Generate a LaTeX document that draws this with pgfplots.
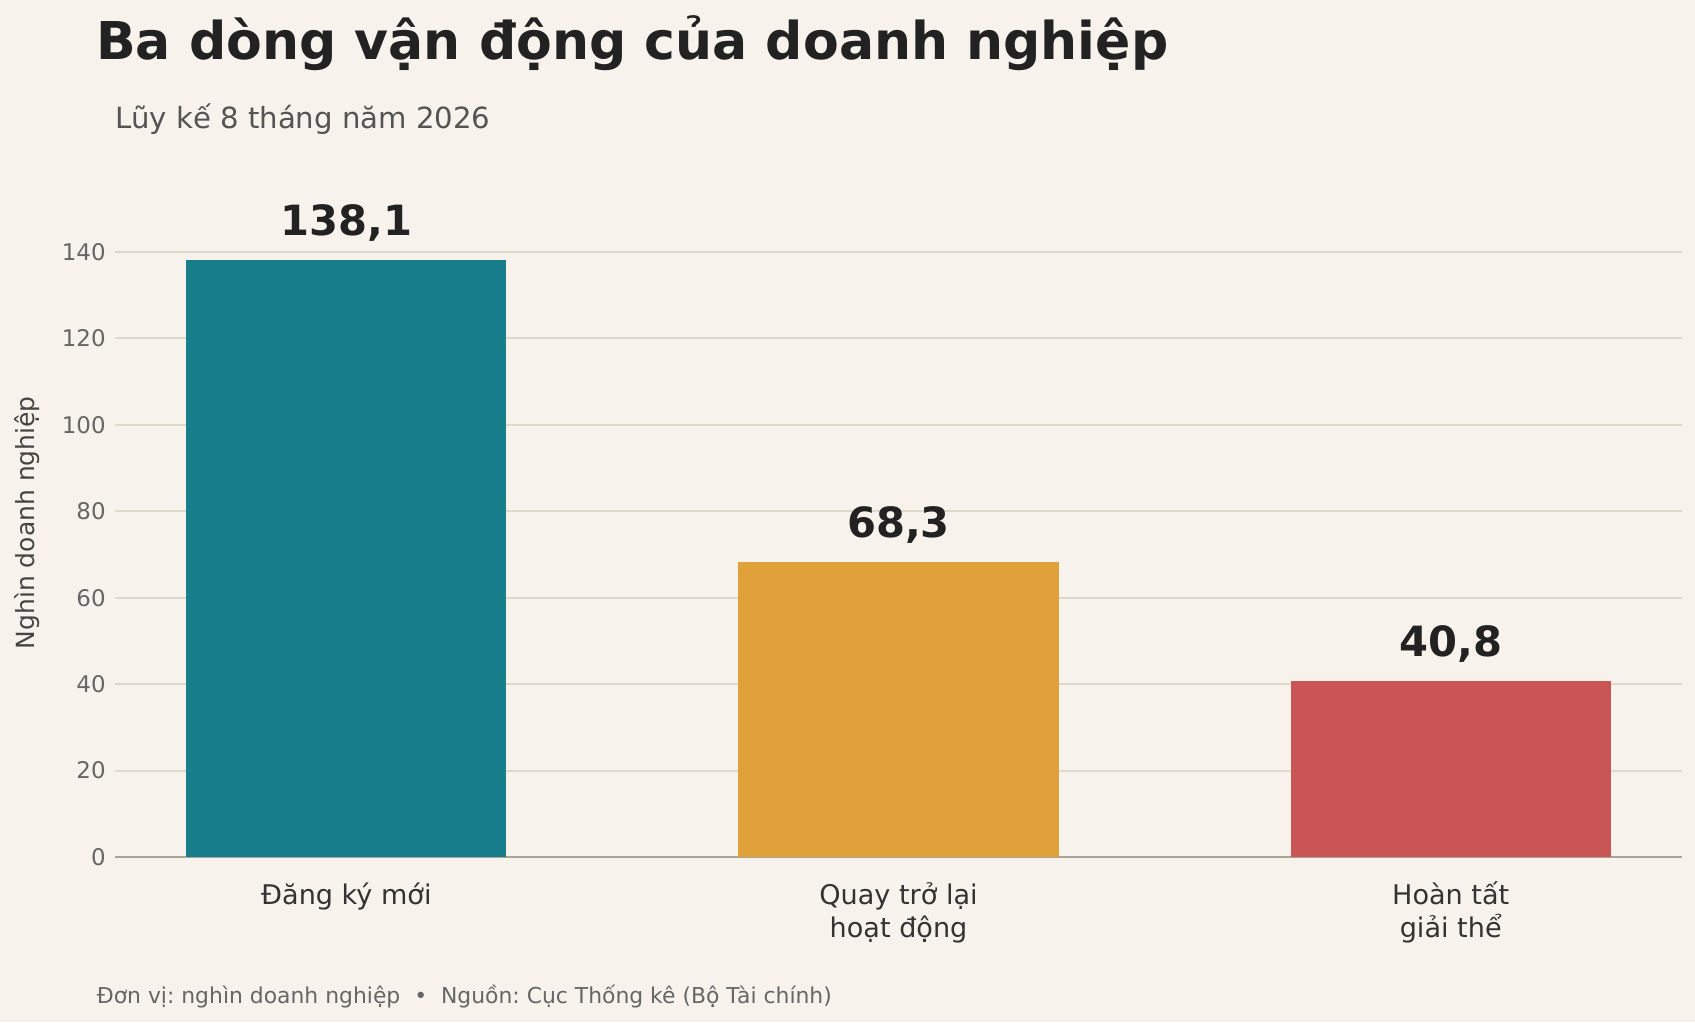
\documentclass[border=0pt]{standalone}
\usepackage{fontspec}
\setmainfont{DejaVu Sans}
\usepackage{pgfplots}
\pgfplotsset{compat=1.18}
\usetikzlibrary{backgrounds}
\definecolor{bg}{HTML}{F7F3EC}
\definecolor{tealbar}{HTML}{187E8B}
\definecolor{orangebar}{HTML}{E1A13A}
\definecolor{redbar}{HTML}{CA5555}
\definecolor{gridc}{HTML}{DEDACA}
\definecolor{axisc}{HTML}{A9A596}
\definecolor{dark}{HTML}{222222}
\newcommand{\fl}{\rule{0pt}{14.3pt}}
\frenchspacing
\begin{document}
\begin{tikzpicture}
\begin{axis}[
  scale only axis,
  width=752.2pt, height=320.9pt,
  xmin=-0.419, xmax=2.419, ymin=0, ymax=154.7,
  axis x line=bottom, axis y line=left,
  x axis line style={-, draw=axisc, line width=1pt},
  y axis line style={draw=none},
  major tick length=0pt,
  ytick={0,20,...,140},
  xtick={0,1,2},
  xticklabels={{\fl Đăng ký mới}, {\fl Quay trở lại\\hoạt động}, {\fl Hoàn tất\\giải thể}},
  xticklabel style={font=\fontsize{13}{15.6}\selectfont, text=black!80, align=center, anchor=north, inner sep=0pt, yshift=-8.3pt},
  yticklabel style={font=\fontsize{11}{13}\selectfont, text=black!60, inner sep=0pt, xshift=-4.3pt},
  /pgf/number format/assume math mode=true,
  ymajorgrids,
  grid style={gridc, line width=0.95pt},
  ylabel={Nghìn doanh nghiệp},
  ylabel style={at={(axis description cs:-0.0511,0.5)}, anchor=base, inner sep=0pt, font=\fontsize{12}{14.4}\selectfont, text=black!73},
  ybar, bar width=0.58,
  nodes near coords,
  point meta=explicit symbolic,
  every node near coord/.append style={font=\fontsize{20}{24}\selectfont\bfseries, text=dark, anchor=base, inner sep=0pt, yshift=11.8pt},
]
\addplot[fill=tealbar, draw=none, bar shift=0pt] coordinates {(0,138.1) [138,1]};
\addplot[fill=orangebar, draw=none, bar shift=0pt] coordinates {(1,68.3) [68,3]};
\addplot[fill=redbar, draw=none, bar shift=0pt] coordinates {(2,40.8) [40,8]};
\end{axis}
\begin{scope}[on background layer]
\fill[bg] ([shift={(-55.2pt,-79.2pt)}]current axis.south west) rectangle ++(813.6pt,490.56pt);
\end{scope}
\node[anchor=base west, inner sep=0pt, font=\fontsize{25}{30}\selectfont\bfseries, text=dark]
  at ([shift={(-9.2pt,382.56pt)}]current axis.south west) {Ba dòng vận động của doanh nghiệp};
\node[anchor=base west, inner sep=0pt, font=\fontsize{14}{17}\selectfont, text=black!67]
  at ([shift={(-0.2pt,349.44pt)}]current axis.south west) {Lũy kế 8 tháng năm 2026};
\node[anchor=base west, inner sep=0pt, font=\fontsize{10.5}{12.6}\selectfont, text=black!60]
  at ([shift={(-8.9pt,-70.08pt)}]current axis.south west) {Đơn vị: nghìn doanh nghiệp\ \ •\ \ Nguồn: Cục Thống kê (Bộ Tài chính)};
\end{tikzpicture}
\end{document}
